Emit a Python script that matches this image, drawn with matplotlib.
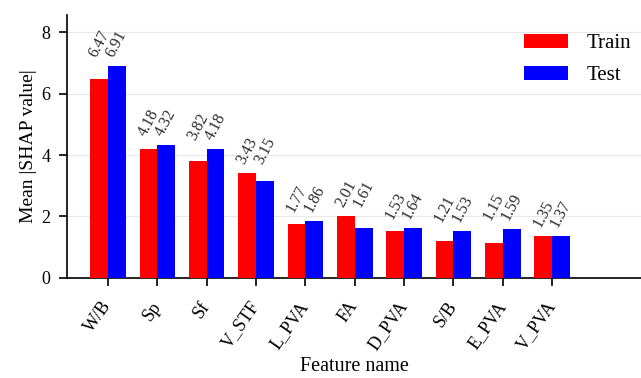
import numpy as np
import matplotlib
matplotlib.use("Agg")
import matplotlib.pyplot as plt

features = ["W/B", "Sp", "Sf", "V_STF", "L_PVA", "FA", "D_PVA", "S/B", "E_PVA", "V_PVA"]
train_vals = [6.47, 4.18, 3.82, 3.43, 1.77, 2.01, 1.53, 1.21, 1.15, 1.35]
test_vals = [6.91, 4.32, 4.18, 3.15, 1.86, 1.61, 1.64, 1.53, 1.59, 1.37]
yticks = [0, 2, 4, 6, 8]

plt.rcParams["font.family"] = ["Liberation Serif", "DejaVu Serif"]

fig = plt.figure(figsize=(6.41, 3.78), dpi=100)
ax = fig.add_axes([0.1045, 0.2646, 0.8955, 0.6954])

x = np.arange(len(features))
w = 0.36
ax.bar(x - w / 2, train_vals, w, color="#ff0000", label="Train", zorder=3)
ax.bar(x + w / 2, test_vals, w, color="#0000ff", label="Test", zorder=3)

for i, (a, b) in enumerate(zip(train_vals, test_vals)):
    top = max(a, b) + 0.2
    ax.text(i - w / 2, top, f"{a:.2f}", rotation=62, ha="center", va="bottom",
            fontsize=11.5, color="#2a2a2a")
    ax.text(i + w / 2, top, f"{b:.2f}", rotation=62, ha="center", va="bottom",
            fontsize=11.5, color="#2a2a2a")

ax.set_xlim(-0.83, 10.8)
ax.set_ylim(0, 8.55)
ax.set_yticks(yticks)
ax.set_xticks(x)
ax.set_xticklabels(features, rotation=55, ha="right", va="center",
                   rotation_mode="anchor", fontsize=13)
ax.tick_params(axis="y", labelsize=13, direction="out", length=6, width=1.2, pad=6)
ax.tick_params(axis="x", direction="out", length=6, width=1.2, pad=12)
ax.yaxis.grid(True, color="#e8e8e8", linewidth=0.8, zorder=0)
ax.set_axisbelow(True)

for s in ["top", "right"]:
    ax.spines[s].set_visible(False)
for s in ["left", "bottom"]:
    ax.spines[s].set_linewidth(1.2)

ax.set_ylabel("Mean |SHAP value|", fontsize=14, labelpad=3)
ax.set_xlabel("Feature name", fontsize=14.5, va="center")
ax.xaxis.set_label_coords(0.5, -0.335)

ax.legend(loc="upper right", frameon=False, fontsize=15, handlelength=2.1,
          handleheight=0.7, labelspacing=0.6, handletextpad=0.9,
          borderaxespad=0.3, bbox_to_anchor=(1.008, 0.985))

fig.savefig("out.png", dpi=100)
